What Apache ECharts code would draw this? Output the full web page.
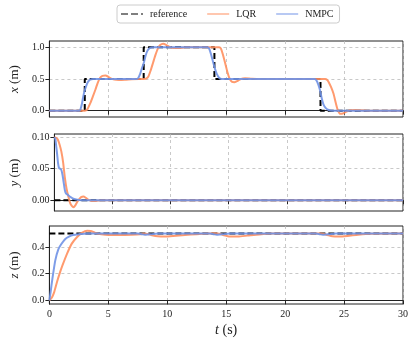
<!DOCTYPE html>
<html>
<head>
<meta charset="utf-8">
<script src="https://cdn.jsdelivr.net/npm/echarts@6/dist/echarts.min.js"></script>
<style>html,body{margin:0;padding:0;background:#fff;}#c{width:416px;height:345px;}</style>
</head>
<body>
<div id="c"></div>
<script>
// ---- data: [t (s), value] ----
const refX = [[0,0],[3,0],[3,0.5],[8,0.5],[8,1],[14,1],[14,0.5],[23,0.5],[23,0],[30,0]];
const lqrX = [[0,0],[3.0,0],[3.2,0.015],[3.45,0.11],[3.7,0.23],[3.9,0.33],[4.1,0.44],[4.3,0.52],[4.5,0.55],[4.75,0.555],[5.0,0.535],[5.2,0.51],[5.5,0.49],[5.9,0.485],[6.4,0.488],[7.0,0.496],[7.6,0.5],
  [8.0,0.5],[8.2,0.505],[8.4,0.54],[8.6,0.64],[8.8,0.76],[9.0,0.88],[9.2,0.98],[9.4,1.035],[9.65,1.055],[9.9,1.04],[10.2,1.005],[10.5,0.99],[11.0,0.99],[11.6,1.0],
  [14.4,1.0],[14.55,0.98],[14.7,0.9],[14.9,0.76],[15.1,0.61],[15.3,0.5],[15.5,0.455],[15.7,0.45],[15.9,0.465],[16.2,0.495],[16.6,0.51],[17.1,0.505],[17.8,0.5],
  [23.4,0.5],[23.55,0.49],[23.7,0.45],[23.9,0.37],[24.1,0.27],[24.3,0.12],[24.45,0.02],[24.65,-0.05],[24.9,-0.045],[25.2,-0.015],[25.5,0.005],[25.9,0.012],[26.4,0.006],[27.0,0],[30,0]];
const nmpcX = [[0,0],[2.55,0],[2.65,0.03],[2.75,0.1],[2.85,0.2],[2.95,0.29],[3.1,0.38],[3.25,0.45],[3.45,0.49],[3.7,0.5],
  [7.4,0.5],[7.55,0.52],[7.7,0.58],[7.85,0.67],[8.0,0.75],[8.15,0.86],[8.3,0.94],[8.5,0.985],[8.8,1.0],
  [13.4,1.0],[13.55,0.98],[13.7,0.9],[13.9,0.76],[14.05,0.66],[14.2,0.58],[14.4,0.52],[14.6,0.5],
  [22.5,0.5],[22.65,0.48],[22.8,0.42],[22.95,0.33],[23.1,0.2],[23.25,0.1],[23.45,0.04],[23.7,0.01],[24.0,0],[30,0]];

const refY = [[0,0],[30,0]];
const lqrY = [[0,0.1],[0.15,0.099],[0.3,0.096],[0.45,0.088],[0.6,0.077],[0.75,0.06],[0.9,0.036],[1.05,0.018],[1.2,0.006],[1.35,-0.004],[1.5,-0.009],[1.65,-0.011],[1.8,-0.008],[1.95,-0.003],[2.1,0.001],[2.3,0.005],[2.5,0.006],[2.7,0.004],[2.9,0.001],[3.2,-0.001],[3.6,-0.001],[4.0,0],[30,0]];
const nmpcY = [[0,0.1],[0.08,0.097],[0.16,0.085],[0.24,0.072],[0.32,0.058],[0.4,0.051],[0.5,0.05],[0.6,0.048],[0.7,0.04],[0.8,0.028],[0.9,0.016],[1.0,0.011],[1.2,0.008],[1.4,0.005],[1.7,0.002],[2.1,0.0005],[2.6,0],[30,0]];

const refZ = [[0,0.5],[30,0.5]];
const lqrZ = [[0,0],[0.2,0.02],[0.4,0.06],[0.65,0.14],[0.9,0.21],[1.1,0.26],[1.5,0.35],[1.9,0.425],[2.35,0.475],[2.75,0.505],[3.2,0.522],[3.5,0.52],[3.9,0.505],[4.4,0.495],[5.0,0.49],[6.0,0.49],[7.0,0.492],[7.7,0.495],
  [8.0,0.5],[8.3,0.498],[8.7,0.488],[9.2,0.48],[9.8,0.478],[10.5,0.482],[11.5,0.49],[12.5,0.496],[13.5,0.5],[14.0,0.502],[14.4,0.5],[14.8,0.488],[15.3,0.478],[16.0,0.478],[16.8,0.485],[17.8,0.494],[18.8,0.5],
  [23.0,0.5],[23.5,0.492],[24.0,0.48],[24.6,0.478],[25.3,0.483],[26.2,0.492],[27.2,0.499],[30,0.5]];
const nmpcZ = [[0,0],[0.1,0.06],[0.25,0.16],[0.5,0.3],[0.75,0.38],[1.0,0.42],[1.35,0.46],[1.7,0.48],[2.0,0.49],[2.5,0.496],[3.0,0.499],[3.5,0.5],
  [7.5,0.5],[7.8,0.496],[8.1,0.491],[8.4,0.494],[8.8,0.498],[9.2,0.5],[13.6,0.5],[13.9,0.496],[14.2,0.491],[14.5,0.494],[14.9,0.498],[15.3,0.5],[22.6,0.5],[22.9,0.496],[23.2,0.491],[23.5,0.494],[23.9,0.498],[24.3,0.5],[30,0.5]];

const xTicks = [0,5,10,15,20,25,30];
const yTicksX = [0.0,0.5,1.0];
const yTicksY = [0.00,0.05,0.10];
const yTicksZ = [0.0,0.2,0.4];
const yLabelsX = ['0.0','0.5','1.0'];
const yLabelsY = ['0.00','0.05','0.10'];
const yLabelsZ = ['0.0','0.2','0.4'];
const legendNames = ['reference','LQR','NMPC'];

const FONT = 'Liberation Serif';
const C_REF = '#000000', C_LQR = '#ff8f5e', C_NMPC = '#7092e6';
const ICON_DASH = 'path://M0,0h7v1h-7z M10,0h7v1h-7z M20,0h2v1h-2z';
const ICON_SOLID = 'path://M0,0h22v1h-22z';

const grids = [
  {left:49, right:13, top:41, height:76},
  {left:49, right:13, top:134, height:77},
  {left:49, right:13, top:226, height:78}
].map(g => Object.assign({show:true, borderColor:'#222', borderWidth:1, backgroundColor:'#fff'}, g));

const splitLine = {show:true, lineStyle:{color:'#bbbbbb', width:0.8, type:[3,3]}};

function xAxis(i, labels) {
  return {
    type:'value', gridIndex:i, min:0, max:30, interval:5,
    axisLine:{show:true, lineStyle:{color:'#222', width:1}},
    axisTick:{show:true, inside:false, length:4, lineStyle:{color:'#222'}},
    axisLabel:{show:labels, fontFamily:FONT, fontSize:10, color:'#222', margin:5},
    splitLine:splitLine,
    name: labels ? '{i|t} (s)' : '',
    nameLocation:'middle', nameGap:19,
    nameTextStyle:{fontFamily:FONT, fontSize:14, color:'#222', rich:{i:{fontFamily:FONT, fontSize:14, fontStyle:'italic', color:'#222'}}}
  };
}
function yAxis(i, min, max, ticks, labels, name) {
  return {
    type:'value', gridIndex:i, min:min, max:max,
    axisLine:{show:true, lineStyle:{color:'#222', width:1}},
    axisTick:{show:true, inside:false, length:4, lineStyle:{color:'#222'}, customValues:ticks},
    axisLabel:{show:true, fontFamily:FONT, fontSize:10, color:'#222', margin:5, customValues:ticks,
      formatter:(v)=>{ const k = ticks.findIndex(t=>Math.abs(t-v)<1e-9); return k>=0 ? labels[k] : ''; }},
    splitLine:splitLine,
    name:'{i|' + name + '} (m)', nameLocation:'middle', nameGap:26, nameRotate:90,
    nameTextStyle:{fontFamily:FONT, fontSize:13, color:'#222', rich:{i:{fontFamily:FONT, fontSize:13, fontStyle:'italic', color:'#222'}}}
  };
}

function line(name, data, i, color, dashed) {
  return {
    name:name, type:'line', data:data, xAxisIndex:i, yAxisIndex:i,
    symbol:'none', showSymbol:false, smooth: dashed ? false : 0.2,
    clip:true,
    lineStyle:{color:color, width:2, type: dashed ? [6,3] : 'solid', opacity: dashed ? 1 : 0.9},
    itemStyle:{color:color},
    z: dashed ? 2 : (name === 'LQR' ? 3 : 4)
  };
}

const chart = echarts.init(document.getElementById('c'), null, {renderer:'canvas'});
chart.setOption({
  animation:false,
  backgroundColor:'#fff',
  legend:{
    top:5, left:117, itemWidth:22, itemHeight:2, itemGap:20,
    padding:[4,6,4,4], borderColor:'#cccccc', borderWidth:1, borderRadius:3,
    textStyle:{fontFamily:FONT, fontSize:10, color:'#222', padding:[0,0,0,2]},
    data:legendNames.map((n,k)=>({name:n, icon: k===0 ? ICON_DASH : ICON_SOLID}))
  },
  grid:grids,
  xAxis:[xAxis(0,false), xAxis(1,false), xAxis(2,true)],
  yAxis:[
    yAxis(0,-0.1,1.1,yTicksX,yLabelsX,'x'),
    yAxis(1,-0.017,0.105,yTicksY,yLabelsY,'y'),
    yAxis(2,-0.027,0.557,yTicksZ,yLabelsZ,'z')
  ],
  series:[
    line('reference', refX, 0, C_REF, true),
    line('LQR', lqrX, 0, C_LQR, false),
    line('NMPC', nmpcX, 0, C_NMPC, false),
    line('reference', refY, 1, C_REF, true),
    line('LQR', lqrY, 1, C_LQR, false),
    line('NMPC', nmpcY, 1, C_NMPC, false),
    line('reference', refZ, 2, C_REF, true),
    line('LQR', lqrZ, 2, C_LQR, false),
    line('NMPC', nmpcZ, 2, C_NMPC, false)
  ]
});
</script>
</body>
</html>
